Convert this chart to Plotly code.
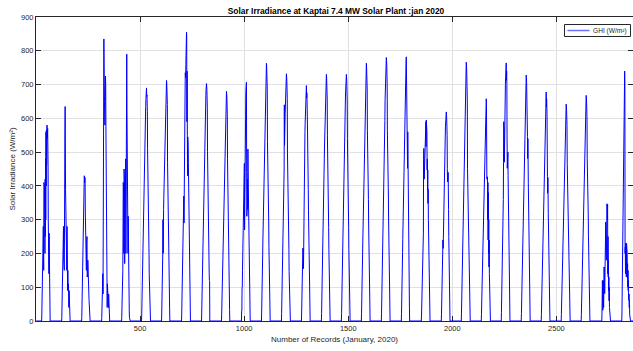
import numpy as np
import plotly.graph_objects as go

# ---------------- data ----------------
N_RECORDS = 2880          # 30 days x 96 records (15-min)
RECORDS_PER_DAY = 96
DAY_START = 26            # first daylight record of each day (index within day)

# daylight GHI readings (W/m^2) for each day
day01 = [0,20,60,100,110,105,160,230,280,200,150,410,250,180,400,300,200,420,250,480,300,560,400,565,460,575,580,540,520,570,500,460,300,270,180,140,260,120,60,0]
day02 = [0,10,40,80,120,90,160,250,200,280,180,230,260,150,300,420,560,635,500,390,300,250,320,200,240,150,280,110,170,90,150,100,80,110,70,40,90,50,20,0]
day03 = [0,10,50,100,140,130,145,200,260,330,400,430,425,430,420,410,425,400,320,240,310,200,280,150,230,180,250,130,200,140,180,120,150,100,130,80,60,30,10,0]
day04 = [0,10,50,90,110,100,140,80,200,450,700,835,760,700,650,600,580,640,700,725,690,560,400,300,230,150,90,40,110,60,100,50,90,40,80,30,50,20,10,0]
day05 = [0,10,40,60,50,80,150,250,410,300,400,200,450,280,420,170,380,250,450,300,480,200,525,580,700,790,620,450,315,250,315,200,310,150,300,100,60,30,10,0]
day06 = [0,21,60,95,95,145,179,214,248,283,317,352,386,421,455,490,524,552,580,607,635,656,673,683,690,665,669,649,621,510,420,505,430,386,324,262,200,138,83,35,0]
day07 = [0,21,50,78,114,160,200,300,200,310,330,363,399,434,470,506,541,570,598,627,655,676,694,705,712,705,691,669,641,470,405,470,410,399,335,271,206,142,85,36,0]
day08 = [0,20,60,110,160,210,260,300,340,370,280,370,290,380,440,500,560,600,735,610,720,760,800,830,855,845,590,740,550,430,545,440,520,470,400,330,260,190,120,60,0]
day09 = [0,21,60,100,135,105,183,218,253,288,323,359,394,429,464,499,534,562,591,619,647,668,685,696,703,696,682,661,633,501,422,500,425,394,330,267,204,141,120,118,0]
day10 = [0,20,48,75,109,143,177,211,245,279,313,347,381,415,449,483,517,544,571,598,626,646,630,675,680,673,660,639,612,481,417,478,420,381,320,258,197,136,82,34,0]
day11 = [0,30,30,100,100,150,184,219,255,290,325,361,396,431,467,270,390,566,594,622,650,672,689,700,707,440,310,440,350,420,330,509,452,396,332,269,205,141,85,35,0]
day12 = [0,23,50,52,55,160,198,237,275,313,351,389,427,465,504,542,580,610,641,671,702,725,744,755,763,755,740,717,687,531,437,530,440,427,359,290,221,153,92,38,0]
day13 = [0,22,77,100,80,154,190,227,264,300,337,373,410,447,640,520,556,586,615,644,673,695,714,725,732,725,710,688,659,500,420,498,425,410,344,278,212,146,88,37,0]
day14 = [0,21,49,77,112,146,181,216,160,200,155,270,264,425,460,495,530,558,585,613,641,662,680,685,697,660,676,655,627,500,430,498,432,390,328,265,202,139,84,35,0]
day15 = [0,22,51,80,117,153,190,226,263,299,270,372,409,445,482,518,555,584,613,642,672,694,712,723,730,723,708,686,657,548,437,545,440,409,343,277,212,146,88,37,0]
day16 = [0,22,51,80,117,153,190,226,263,299,336,372,409,445,482,518,555,584,613,642,672,694,712,723,730,723,708,686,657,540,440,538,445,409,343,277,212,146,88,37,0]
day17 = [0,23,50,60,55,160,198,237,275,313,351,389,427,465,504,542,580,610,641,671,702,725,744,755,763,755,740,717,687,565,442,560,445,427,359,290,221,153,92,38,0]
day18 = [0,23,55,117,146,120,146,203,242,281,320,359,398,437,476,515,554,593,655,686,718,741,761,772,780,772,757,733,702,565,450,560,455,437,367,296,226,156,94,39,0]
day19 = [0,23,53,72,60,70,203,242,282,321,360,399,438,477,516,555,594,626,657,688,719,743,762,774,782,700,759,735,704,565,452,560,455,438,368,297,227,156,94,39,0]
day20 = [0,15,40,70,110,150,181,215,185,215,260,477,511,480,420,450,480,500,520,540,560,580,590,516,595,588,516,560,447,480,388,447,348,390,300,240,180,130,80,35,0]
day21 = [0,20,62,102,70,100,150,210,240,215,245,299,324,300,340,390,430,470,510,545,575,598,610,617,619,612,600,580,550,452,412,450,415,440,412,330,250,170,100,40,0]
day22 = [0,23,54,84,123,161,199,237,276,314,352,391,429,467,506,544,582,613,643,674,705,728,747,758,766,758,743,720,689,651,452,412,450,415,360,291,222,153,92,38,0]
day23 = [0,20,48,75,110,140,175,210,240,275,310,345,380,410,440,470,500,530,560,590,615,635,650,629,658,640,500,420,560,520,427,300,410,240,380,200,300,160,240,140,60,0]
day24 = [0,25,60,97,122,100,120,180,240,300,360,470,590,480,560,470,629,672,630,680,700,720,740,755,764,713,740,700,551,452,550,455,500,430,360,290,220,150,90,38,0]
day25 = [0,22,51,80,116,153,189,226,262,298,335,371,408,444,480,517,553,582,612,641,670,692,710,721,728,721,706,684,655,619,546,481,540,485,408,342,277,211,146,87,36,0]
day26 = [0,20,47,75,108,142,176,210,244,278,312,346,380,414,447,481,515,542,570,597,624,644,661,671,678,634,658,637,610,576,427,378,425,380,319,258,197,136,81,34,0]
day27 = [0,19,45,71,103,135,167,199,231,263,295,327,360,392,424,456,488,514,539,565,591,610,626,636,642,636,623,603,578,467,427,465,430,360,302,244,186,128,77,32,0]
day28 = [0,20,47,73,107,140,174,207,240,274,307,341,374,407,441,474,508,534,561,588,615,635,651,661,668,661,648,628,601,481,452,480,455,374,314,254,194,134,80,33,0]
day29 = [0,0,0,0,20,60,120,81,32,100,120,60,40,110,160,90,130,81,150,100,160,120,293,209,249,180,293,260,347,330,300,345,140,250,130,180,90,130,60,100,40,20,0]
day30 = [0,0,0,0,30,80,140,200,260,320,380,440,500,560,620,670,710,740,700,200,219,140,230,150,200,130,230,180,140,200,130,170,100,150,90,120,70,61,80,40,61,20,0]

days = [day01, day02, day03, day04, day05, day06, day07, day08, day09, day10,
        day11, day12, day13, day14, day15, day16, day17, day18, day19, day20,
        day21, day22, day23, day24, day25, day26, day27, day28, day29, day30]

x_tick_vals = [500, 1000, 1500, 2000, 2500]
y_tick_vals = [0, 100, 200, 300, 400, 500, 600, 700, 800, 900]
series_name = 'GHI (W/m²)'

ghi = np.zeros(N_RECORDS)
for d, vals in enumerate(days):
    s = d * RECORDS_PER_DAY + DAY_START
    ghi[s:s + len(vals)] = vals
records = np.arange(1, N_RECORDS + 1)

# ---------------- figure ----------------
W, H = 633, 351
L, R, T, B = 36, 0, 17, 30
PW, PH = W - L - R, H - T - B
AX = '#262626'
FONT = 'Liberation Sans, Arial, Helvetica, sans-serif'


def px(xp):
    return (xp - L) / PW


def py(yp):
    return (H - B - yp) / PH


fig = go.Figure(go.Scatter(
    x=records, y=ghi, mode='lines', name=series_name,
    line=dict(color='#0000ff', width=1), showlegend=False,
))

# MATLAB-style legend box (top-right)
fig.add_shape(type='rect', xref='paper', yref='paper',
              x0=px(564.5), x1=px(630.5), y0=py(36.5), y1=py(24.5),
              line=dict(color=AX, width=1), fillcolor='white', layer='above')
fig.add_shape(type='line', xref='paper', yref='paper',
              x0=px(567.5), x1=px(589.5), y0=py(30.5), y1=py(30.5),
              line=dict(color='#6f6fff', width=1.5), layer='above')
fig.add_annotation(text=series_name, xref='paper', yref='paper',
                   x=px(591.5), y=py(30.5), xanchor='left', yanchor='middle',
                   showarrow=False, borderpad=0,
                   font=dict(family=FONT, size=6.6, color=AX))

fig.update_layout(
    width=W, height=H,
    margin=dict(l=L, r=R, t=T, b=B, pad=0),
    paper_bgcolor='white', plot_bgcolor='white',
    font=dict(family=FONT, size=7.5, color=AX),
    title=dict(text='<b>Solar Irradiance at Kaptai 7.4 MW Solar Plant :jan 2020</b>',
               x=(336 - L) / PW, xref='paper', xanchor='center',
               y=1 - 11 / H, yref='container', yanchor='middle',
               font=dict(family=FONT, size=8.4, color='#000000')),
    showlegend=False,
)

fig.update_xaxes(
    range=[0, 2868], tickvals=x_tick_vals, ticks='inside', ticklen=5,
    tickcolor=AX, tickwidth=1, showline=True, linecolor=AX, linewidth=1,
    mirror='ticks', showgrid=True, gridcolor='#e1e1e1', gridwidth=1,
    zeroline=False, layer='below traces',
    title=dict(text='Number of Records (January, 2020)', standoff=4,
               font=dict(size=8, color=AX)),
)
fig.update_yaxes(
    range=[0, 900], tickvals=y_tick_vals, ticks='inside', ticklen=5,
    tickcolor=AX, tickwidth=1, showline=True, linecolor=AX, linewidth=1,
    mirror='ticks', showgrid=True, gridcolor='#e1e1e1', gridwidth=1,
    zeroline=False, layer='below traces',
    title=dict(text='Solar Irradiance (W/m²)', standoff=4,
               font=dict(size=8, color=AX)),
)

fig.write_html('out.html')
